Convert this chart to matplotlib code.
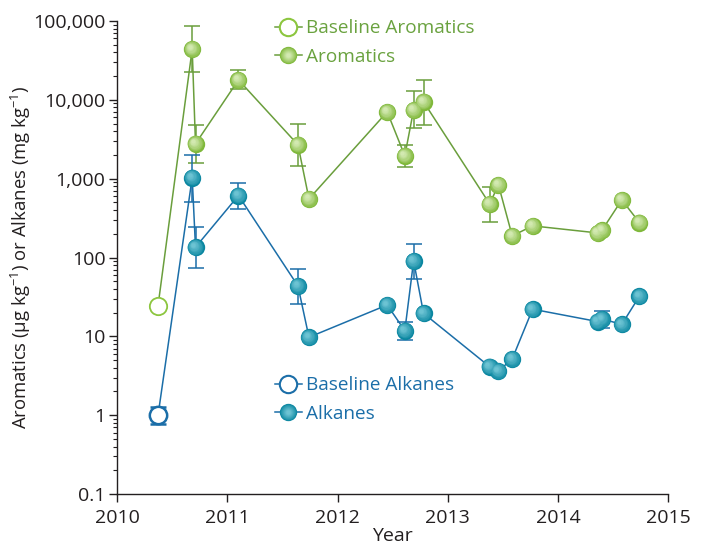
import matplotlib
matplotlib.use("Agg")
import matplotlib.pyplot as plt
import numpy as np
from matplotlib.colors import to_rgb
from matplotlib.lines import Line2D
from matplotlib.transforms import offset_copy

plt.rcParams['font.family'] = ['Open Sans', 'DejaVu Sans']
plt.rcParams['mathtext.fontset'] = 'custom'
plt.rcParams['mathtext.rm'] = 'Open Sans'
plt.rcParams['mathtext.it'] = 'Open Sans:italic'

# sampling dates (decimal years) and concentrations
baseline_year = [2010.37]
baseline_aromatics = [24.5]
baseline_alkanes = [1.0]
baseline_alk_hi = [1.26]
baseline_alk_lo = [0.78]

years = [2010.68, 2010.71, 2011.10, 2011.64, 2011.74, 2012.45, 2012.61, 2012.69,
         2012.78, 2013.38, 2013.46, 2013.585, 2013.77, 2014.36, 2014.40, 2014.58,
         2014.74]

aromatics = [44000, 2770, 17900, 2690, 554, 7040, 1950, 7470,
             9440, 479, 834, 188, 252, 205, 222, 538, 277]
arom_hi = [86900, 4820, 24000, 4960, None, None, 2690, 13000,
           17900, 787, None, None, None, None, None, None, None]
arom_lo = [22600, 1585, 13800, 1450, None, None, 1410, 4410,
           4820, 283, None, None, None, None, None, None, None]

alkanes = [1030, 135, 611, 43.6, 9.74, 25.0, 11.8, 90.6,
           19.6, 4.12, 3.64, 5.17, 22.1, 15.4, 16.6, 14.2, 32.3]
alk_hi = [2000, 247, 893, 71.6, None, None, 15.1, 149,
          None, None, None, None, None, None, 21.2, None, None]
alk_lo = [508, 73, 414, 26.0, None, None, 9.0, 53.5,
          None, None, None, None, None, None, 12.8, None, None]

GREEN_LINE = '#6a9e3c'
GREEN_TEXT = '#6aa23f'
GREEN_OPEN = '#8cc63f'
BLUE_LINE = '#1b6ea8'
TEXT = '#231f20'
MS = 12.5
N_LAYERS = 9


def ramp(outer, inner, n=N_LAYERS):
    a, b = np.array(to_rgb(outer)), np.array(to_rgb(inner))
    return [tuple(a + (b - a) * (i / (n - 1)) ** 0.8) for i in range(n)]


GREEN_SHADES = ramp('#7fb83a', '#d2e9b0')
TEAL_SHADES = ramp('#0a86a0', '#6cc3d3')


def series_errors(vals, hi, lo):
    x, y, up, dn = [], [], [], []
    for xi, v, h, l in zip(years, vals, hi, lo):
        if h is None:
            continue
        x.append(xi)
        y.append(v)
        up.append(h - v)
        dn.append(v - l)
    return x, y, [dn, up]


def spheres(ax, x, y, shades, size=MS):
    # stack shrinking discs, lighter toward an upper-left highlight
    n = len(shades)
    for i, c in enumerate(shades):
        s = size * (1 - 0.85 * i / n)
        tr = offset_copy(ax.transData, fig=ax.figure, x=-0.22 * i, y=0.22 * i, units='points')
        ax.plot(x, y, 'o', ms=s, mfc=c, mec='none', transform=tr, zorder=4 + i * 0.01)


fig = plt.figure(figsize=(7.04, 5.48), dpi=100)
ax = fig.add_axes([0.1666, 0.0985, 0.7824, 0.8632])

# aromatics
ex, ey, eerr = series_errors(aromatics, arom_hi, arom_lo)
ax.errorbar(ex, ey, yerr=eerr, fmt='none', ecolor=GREEN_LINE, elinewidth=1.1,
            capsize=6, capthick=1.1, zorder=2)
ax.plot(baseline_year + years, baseline_aromatics + aromatics, '-', color=GREEN_LINE,
        lw=1.1, zorder=3)
ax.plot(baseline_year, baseline_aromatics, 'o', ms=MS, mfc='white', mec=GREEN_OPEN,
        mew=1.3, zorder=4)
spheres(ax, years, aromatics, GREEN_SHADES)

# alkanes
ex, ey, eerr = series_errors(alkanes, alk_hi, alk_lo)
ax.errorbar(ex, ey, yerr=eerr, fmt='none', ecolor=BLUE_LINE, elinewidth=1.1,
            capsize=6, capthick=1.1, zorder=2)
ax.errorbar(baseline_year, baseline_alkanes,
            yerr=[[baseline_alkanes[0] - baseline_alk_lo[0]],
                  [baseline_alk_hi[0] - baseline_alkanes[0]]],
            fmt='none', ecolor=BLUE_LINE, elinewidth=1.6, capsize=6, capthick=1.8, zorder=2)
ax.plot(baseline_year + years, baseline_alkanes + alkanes, '-', color=BLUE_LINE,
        lw=1.1, zorder=3)
ax.plot(baseline_year, baseline_alkanes, 'o', ms=MS, mfc='white', mec=BLUE_LINE,
        mew=1.8, zorder=4)
spheres(ax, years, alkanes, TEAL_SHADES)

ax.set_yscale('log')
ax.set_ylim(0.1, 100000)
ax.set_xlim(2010, 2015)
ax.set_xticks([2010, 2011, 2012, 2013, 2014, 2015])
ax.set_yticks([0.1, 1, 10, 100, 1000, 10000, 100000],
              ['0.1', '1', '10', '100', '1,000', '10,000', '100,000'])
for side in ['top', 'right']:
    ax.spines[side].set_visible(False)
for side in ['left', 'bottom']:
    ax.spines[side].set_linewidth(1.0)
    ax.spines[side].set_color(TEXT)
ax.tick_params(which='major', length=5.5, width=1.0, color=TEXT, labelsize=14,
               labelcolor=TEXT)
ax.tick_params(axis='x', which='major', pad=5)
ax.tick_params(axis='y', which='major', pad=3)
ax.tick_params(which='minor', length=3, width=0.8, color=TEXT)
ax.tick_params(axis='x', which='minor', bottom=False)

ax.set_xlabel('Year', fontsize=14, color=TEXT, labelpad=0)
ax.set_ylabel(r'Aromatics ($\mathregular{\mu}$g kg$^{-1}$) or Alkanes (mg kg$^{-1}$)',
              fontsize=13.3, color=TEXT, labelpad=0)


def legend_handles(open_col, line_col, shades):
    base = Line2D([], [], color=line_col, lw=1.1, marker='o', ms=MS, mfc='white',
                  mec=open_col, mew=1.5)
    filled = [Line2D([], [], color=line_col, lw=1.1, marker='o', ms=MS, mfc=shades[0],
                     mec='none')]
    filled += [Line2D([], [], ls='none', marker='o', ms=MS * (1 - 0.85 * i / len(shades)),
                      mfc=c, mec='none') for i, c in enumerate(shades[1:], 1)]
    return [base, tuple(filled)]


legend_kw = dict(loc='upper left', frameon=False, fontsize=13.7, handlelength=1.4,
                 handletextpad=0.25, labelspacing=0.55)
leg1 = ax.legend(legend_handles(GREEN_OPEN, GREEN_LINE, GREEN_SHADES),
                 ['Baseline Aromatics', 'Aromatics'], bbox_to_anchor=(0.255, 1.04),
                 labelcolor=GREEN_TEXT, **legend_kw)
ax.add_artist(leg1)
ax.legend(legend_handles(BLUE_LINE, BLUE_LINE, TEAL_SHADES),
          ['Baseline Alkanes', 'Alkanes'], bbox_to_anchor=(0.255, 0.285),
          labelcolor=BLUE_LINE, **legend_kw)

fig.savefig('out.png', dpi=100)
